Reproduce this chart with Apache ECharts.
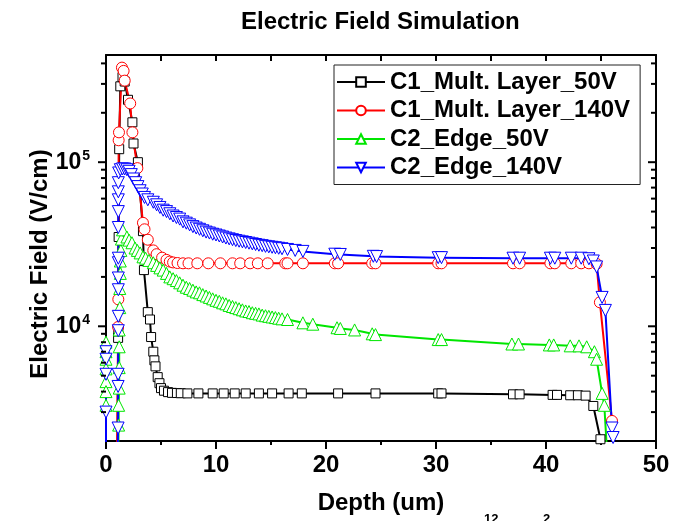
<!DOCTYPE html>
<html>
<head>
<meta charset="utf-8">
<script src="https://cdn.jsdelivr.net/npm/echarts@6/dist/echarts.min.js"></script>
<style>
html,body{margin:0;padding:0;background:#fff;}
#chart{width:673px;height:521px;}
</style>
</head>
<body>
<div id="chart"></div>
<script>
// ---- data (depth in um, field in V/cm) ----
const seriesNames = ['C1_Mult. Layer_50V', 'C1_Mult. Layer_140V', 'C2_Edge_50V', 'C2_Edge_140V'];

const c1_50V = [[1.05,1500],[1.1,8500],[1.12,9300],[1.15,3.5e4],[1.2,1.2e5],[1.3,2.9e5],[1.5,3.3e5],[1.7,3.1e5],[2.0,2.4e5],[2.4,1.75e5],[2.5,1.3e5],[2.9,1.0e5],[3.36,3.8e4],[3.45,2.2e4],[3.8,1.22e4],[4.0,1.1e4],[4.1,8.6e3],[4.3,7.0e3],[4.4,6.2e3],[4.5,5.7e3],[4.7,4.9e3],[4.86,4.5e3],[5.0,4.2e3],[5.27,4.05e3],[5.64,3.97e3],[6.0,3.93e3],[6.45,3.92e3],[6.8,3.91e3],[7.4,3.9e3],[8.4,3.9e3],[9.7,3.9e3],[10.7,3.9e3],[11.7,3.9e3],[12.7,3.9e3],[13.9,3.9e3],[15.1,3.9e3],[16.6,3.9e3],[17.8,3.9e3],[21.1,3.9e3],[24.5,3.9e3],[30.2,3.9e3],[30.5,3.9e3],[37.0,3.85e3],[37.6,3.85e3],[40.6,3.82e3],[41.0,3.82e3],[42.2,3.8e3],[42.9,3.8e3],[43.6,3.78e3],[44.3,3.27e3],[44.95,2050]];

const c1_140V = [[1.0,1500],[1.1,9.9e3],[1.12,1.46e4],[1.15,1.36e5],[1.18,1.52e5],[1.45,3.77e5],[1.6,3.6e5],[1.7,3.14e5],[2.2,2.28e5],[2.4,1.52e5],[2.85,9.2e4],[3.36,4.27e4],[3.5,3.9e4],[3.8,3.37e4],[4.3,2.9e4],[4.6,2.75e4],[5.1,2.62e4],[5.5,2.54e4],[5.8,2.48e4],[6.1,2.45e4],[6.5,2.43e4],[7.0,2.42e4],[7.5,2.42e4],[8.3,2.42e4],[9.3,2.42e4],[10.4,2.42e4],[11.5,2.42e4],[12.2,2.42e4],[13.1,2.42e4],[13.8,2.42e4],[14.7,2.42e4],[16.3,2.42e4],[16.5,2.42e4],[17.9,2.42e4],[20.8,2.42e4],[21.1,2.42e4],[24.2,2.42e4],[24.5,2.42e4],[30.2,2.42e4],[30.5,2.42e4],[37.0,2.42e4],[37.6,2.42e4],[40.4,2.42e4],[40.8,2.42e4],[42.3,2.42e4],[43.2,2.42e4],[43.9,2.42e4],[44.6,2.4e4],[44.9,1.4e4],[46.0,2650],[46.2,1500]];

const c2_50V = [[0,8.0e3],[0,7.0e3],[0,6.3e3],[0,5.5e3],[0,4.6e3],[0,4.0e3],[0,3.3e3],[0,1500],[1.1,1500],[1.15,2.5e3],[1.15,3.3e3],[1.2,4.2e3],[1.2,5.6e3],[1.2,7.5e3],[1.2,9.5e3],[1.25,1.3e4],[1.25,1.7e4],[1.3,2.1e4],[1.3,2.5e4],[1.35,2.9e4],[1.4,3.4e4],[1.5,3.87e4],[1.9,3.5e4],[2.1,3.35e4],[2.36,3.23e4],[2.64,3.0e4],[2.85,2.9e4],[3.1,2.8e4],[3.36,2.65e4],[3.6,2.6e4],[3.9,2.52e4],[4.3,2.44e4],[4.6,2.35e4],[4.9,2.27e4],[5.2,2.2e4],[5.5,2.1e4],[5.8,2.0e4],[6.1,1.95e4],[6.4,1.9e4],[6.7,1.84e4],[7.0,1.78e4],[7.3,1.73e4],[7.6,1.7e4],[7.9,1.66e4],[8.2,1.62e4],[8.5,1.6e4],[8.8,1.56e4],[9.1,1.53e4],[9.4,1.5e4],[9.7,1.47e4],[10.0,1.44e4],[10.3,1.42e4],[10.6,1.39e4],[10.9,1.37e4],[11.2,1.34e4],[11.5,1.32e4],[11.8,1.3e4],[12.1,1.28e4],[12.4,1.26e4],[12.7,1.24e4],[13.0,1.23e4],[13.3,1.21e4],[13.6,1.2e4],[13.9,1.19e4],[14.2,1.17e4],[14.5,1.16e4],[14.8,1.15e4],[15.1,1.14e4],[15.4,1.13e4],[15.7,1.12e4],[16.0,1.11e4],[16.5,1.1e4],[17.9,1.05e4],[18.8,1.03e4],[21.0,9.8e3],[21.3,9.7e3],[22.6,9.5e3],[24.2,9.0e3],[24.5,8.9e3],[30.2,8.3e3],[30.5,8.3e3],[36.9,7.8e3],[37.5,7.8e3],[40.3,7.7e3],[40.7,7.7e3],[42.2,7.6e3],[43.0,7.6e3],[43.7,7.5e3],[44.4,7.0e3],[44.6,6.3e3],[45.1,3.9e3],[45.3,3.3e3],[45.6,1500]];

const c2_140V = [[0,7.0e3],[0,6.3e3],[0,5.1e3],[0,3.0e3],[0,1500],[1.05,1500],[1.1,2.4e3],[1.1,4.3e3],[1.1,5.1e3],[1.12,9.4e3],[1.12,1.15e4],[1.12,1.67e4],[1.12,1.97e4],[1.12,2.44e4],[1.12,2.6e4],[1.12,4.0e4],[1.12,5.0e4],[1.12,5.9e4],[1.12,6.6e4],[1.12,7.5e4],[1.15,8.6e4],[1.3,9.0e4],[1.5,9.1e4],[1.7,9.1e4],[1.9,9.0e4],[2.1,8.8e4],[2.3,8.4e4],[2.5,7.9e4],[2.7,7.5e4],[2.9,7.1e4],[3.1,6.7e4],[3.3,6.4e4],[3.5,6.1e4],[3.8,5.9e4],[4.3,5.7e4],[4.6,5.5e4],[4.9,5.3e4],[5.2,5.1e4],[5.5,5.0e4],[5.8,4.85e4],[6.1,4.7e4],[6.4,4.6e4],[6.7,4.5e4],[7.0,4.33e4],[7.3,4.25e4],[7.6,4.15e4],[7.9,4.05e4],[8.2,3.97e4],[8.5,3.9e4],[8.8,3.82e4],[9.1,3.75e4],[9.4,3.7e4],[9.7,3.64e4],[10.0,3.6e4],[10.3,3.55e4],[10.6,3.5e4],[10.9,3.45e4],[11.2,3.41e4],[11.5,3.37e4],[11.8,3.33e4],[12.1,3.3e4],[12.4,3.27e4],[12.7,3.24e4],[13.0,3.21e4],[13.3,3.18e4],[13.6,3.15e4],[13.9,3.12e4],[14.2,3.1e4],[14.5,3.07e4],[14.8,3.05e4],[15.1,3.03e4],[15.4,3.01e4],[15.7,2.99e4],[16.0,2.97e4],[16.5,2.94e4],[17.2,2.9e4],[17.9,2.86e4],[20.8,2.75e4],[21.3,2.74e4],[24.3,2.67e4],[24.6,2.66e4],[30.2,2.62e4],[30.5,2.62e4],[37.0,2.6e4],[37.6,2.6e4],[40.4,2.6e4],[40.8,2.6e4],[42.3,2.6e4],[43.2,2.6e4],[43.9,2.58e4],[44.3,2.5e4],[44.6,2.3e4],[45.1,1.5e4],[45.4,1.25e4],[46.0,2.4e3],[46.1,2.1e3],[46.3,1500]];

// axis ranges and ticks
const xRange = [0, 50];
const yRange = [2000, 450000];
const yMajorTicks = [1e4, 1e5];
const yMinorTicks = [3000,4000,5000,6000,7000,8000,9000,20000,30000,40000,50000,60000,70000,80000,90000,200000,300000,400000];

const FONT = '"Liberation Sans", Arial, sans-serif';

const chart = echarts.init(document.getElementById('chart'), null, {renderer: 'canvas'});

function mkLine(name, data, color, symbol, size, rotate) {
  return {
    name: name, type: 'line', data: data,
    xAxisIndex: 0, yAxisIndex: 0,
    symbol: symbol, symbolSize: size, symbolRotate: rotate || 0,
    showAllSymbol: true, clip: true,
    lineStyle: {color: color, width: 2},
    itemStyle: {color: '#ffffff', borderColor: color, borderWidth: 1},
    emphasis: {disabled: true},
    z: 3
  };
}

const tickData = yMajorTicks.map(v => [0, v, 1]).concat(yMinorTicks.map(v => [0, v, 0]));

const option = {
  animation: false,
  backgroundColor: '#ffffff',
  textStyle: {fontFamily: FONT},
  title: {
    text: 'Electric Field Simulation',
    left: 236, top: 5,
    textStyle: {fontFamily: FONT, fontSize: 24, fontWeight: 'bold', color: '#000'}
  },
  legend: {
    data: seriesNames,
    orient: 'vertical',
    left: 334, top: 65,
    padding: [5, 10, 5, 2],
    borderColor: '#222', borderWidth: 1,
    backgroundColor: '#fff',
    itemWidth: 48, itemHeight: 12, itemGap: 4.5,
    textStyle: {fontFamily: FONT, fontSize: 24, fontWeight: 'bold', color: '#000', lineHeight: 24}
  },
  grid: {left: 106, right: 17, top: 55, bottom: 80, containLabel: false},
  xAxis: [{
    type: 'value', position: 'bottom', min: xRange[0], max: xRange[1], interval: 10,
    name: 'Depth (um)', nameLocation: 'middle', nameGap: 50,
    nameTextStyle: {fontFamily: FONT, fontSize: 24, fontWeight: 'bold', color: '#000'},
    axisLine: {show: true, onZero: false, lineStyle: {color: '#000', width: 2}},
    axisTick: {show: true, inside: false, length: 8, lineStyle: {color: '#000', width: 2}},
    minorTick: {show: true, splitNumber: 2, length: 4, lineStyle: {color: '#000', width: 2}},
    axisLabel: {fontFamily: FONT, fontSize: 24, fontWeight: 'bold', color: '#000', margin: 12},
    splitLine: {show: false}
  }, {
    type: 'value', position: 'top', min: xRange[0], max: xRange[1], interval: 5,
    axisLine: {show: true, onZero: false, lineStyle: {color: '#000', width: 2}},
    axisTick: {show: true, inside: true, length: 6, lineStyle: {color: '#000', width: 2}},
    axisLabel: {show: false},
    splitLine: {show: false}
  }],
  yAxis: [{
    type: 'log', logBase: 10, position: 'left', min: yRange[0], max: yRange[1], splitNumber: 2,
    axisLine: {show: true, onZero: false, lineStyle: {color: '#000', width: 2}},
    axisTick: {show: false},
    splitLine: {show: false},
    axisLabel: {
      margin: 16,
      showMinLabel: false, showMaxLabel: false,
      formatter: function (v) {
        const e = Math.log10(v);
        if (Math.abs(e - Math.round(e)) > 1e-6) return '';
        return '{b|10}{s|' + Math.round(e) + '}';
      },
      rich: {
        b: {fontFamily: FONT, fontSize: 23, fontWeight: 'bold', color: '#000', lineHeight: 26},
        s: {fontFamily: FONT, fontSize: 14, fontWeight: 'bold', color: '#000', verticalAlign: 'top', lineHeight: 14, padding: [0, 0, 0, 1]}
      }
    }
  }, {
    type: 'log', logBase: 10, position: 'right', min: yRange[0], max: yRange[1],
    axisLine: {show: true, onZero: false, lineStyle: {color: '#000', width: 2}},
    axisTick: {show: false},
    axisLabel: {show: false},
    splitLine: {show: false}
  }],
  graphic: [{
    type: 'text', x: 40, y: 264, rotation: Math.PI / 2,
    style: {text: 'Electric Field (V/cm)', fill: '#000', font: 'bold 24px ' + FONT,
            textAlign: 'center', textVerticalAlign: 'middle', verticalAlign: 'middle'}
  }, {
    type: 'text', x: 484, y: 513,
    style: {text: '12', fill: '#000', font: 'bold 13px ' + FONT}
  }, {
    type: 'text', x: 543, y: 513,
    style: {text: '2', fill: '#000', font: 'bold 13px ' + FONT}
  }],
  series: [
    mkLine(seriesNames[0], c1_50V, '#000000', 'rect', 9),
    mkLine(seriesNames[1], c1_140V, '#ff0000', 'circle', 11),
    mkLine(seriesNames[2], c2_50V, '#00e600', 'triangle', 12),
    mkLine(seriesNames[3], c2_140V, '#0000ff', 'triangle', 12, 180),
    {
      type: 'custom', silent: true, clip: false, z: 5,
      xAxisIndex: 0, yAxisIndex: 0,
      data: tickData,
      renderItem: function (params, api) {
        const v = api.value(1);
        const major = api.value(2) === 1;
        const left = api.coord([xRange[0], v]);
        const right = api.coord([xRange[1], v]);
        const len = major ? 8 : 5;
        const st = {stroke: '#000', lineWidth: 2};
        return {
          type: 'group',
          children: [
            {type: 'line', shape: {x1: left[0] - len, y1: left[1], x2: left[0], y2: left[1]}, style: st},
            {type: 'line', shape: {x1: right[0] - len, y1: right[1], x2: right[0], y2: right[1]}, style: st}
          ]
        };
      }
    }
  ]
};
chart.setOption(option);
</script>
</body>
</html>
